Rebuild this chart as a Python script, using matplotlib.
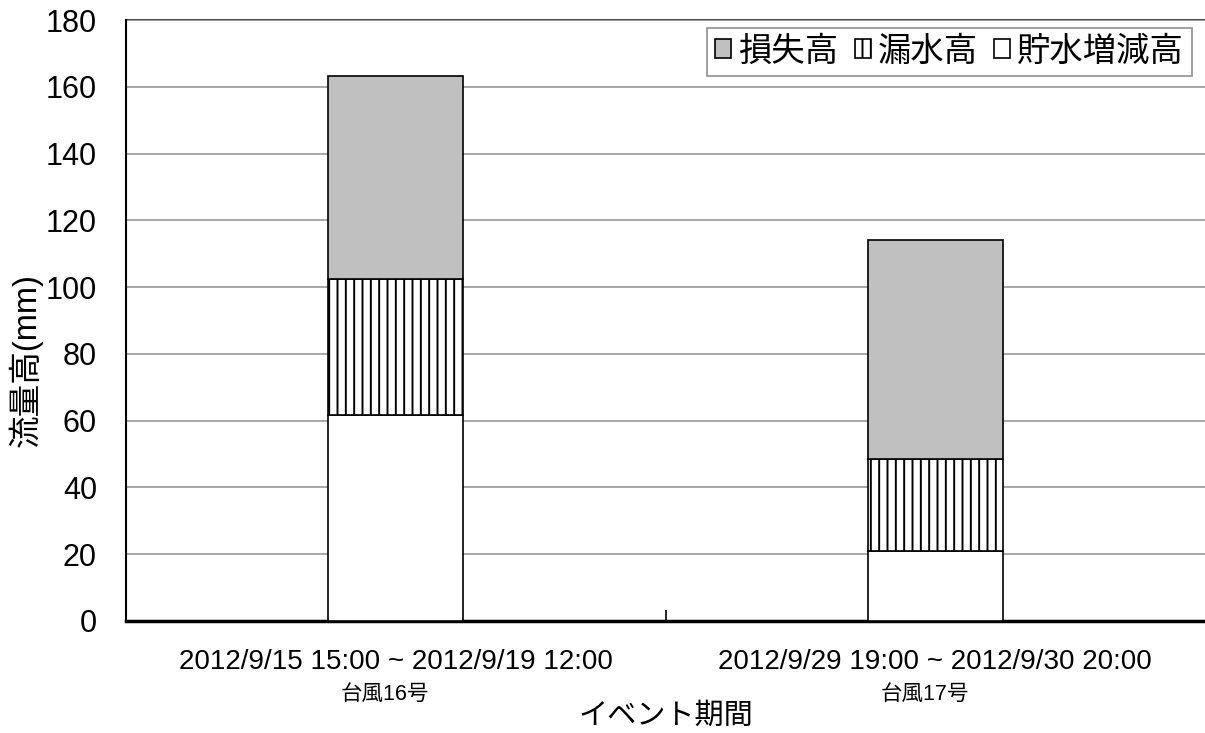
import matplotlib
matplotlib.use("Agg")
import matplotlib.pyplot as plt
import matplotlib.transforms as mtransforms
import numpy as np

plt.rcParams['font.family'] = ['Liberation Sans', 'Noto Sans CJK JP', 'DejaVu Sans']
plt.rcParams['hatch.linewidth'] = 1.4

# Event periods and typhoon names
periods = ["2012/9/15 15:00 ~ 2012/9/19 12:00", "2012/9/29 19:00 ~ 2012/9/30 20:00"]
typhoons = ["台風16号", "台風17号"]

# Stacked components (mm)
storage_change = [61.7, 21.0]   # 貯水増減高
leakage = [40.7, 27.5]          # 漏水高
loss = [60.8, 65.6]             # 損失高

y_ticks = [0, 20, 40, 60, 80, 100, 120, 140, 160, 180]

fig = plt.figure(figsize=(12.05, 7.33), dpi=100)
ax = fig.add_axes([0.1046, 0.1528, 0.8954, 0.8199])

x = np.arange(len(periods))
w = 0.25
s = np.array(storage_change)
l = np.array(leakage)
o = np.array(loss)

b1 = ax.bar(x, s, w, color='white', edgecolor='black', linewidth=1.2, zorder=3)
b2 = ax.bar(x, l, w, bottom=s, color='white', edgecolor='black', linewidth=1.2,
            hatch='||', zorder=3)
b3 = ax.bar(x, o, w, bottom=s + l, color='#c0c0c0', edgecolor='black', linewidth=1.2,
            zorder=3)

ax.set_xlim(-0.5, 1.5)
ax.set_ylim(0, 180)
ax.set_yticks(y_ticks)
ax.tick_params(axis='y', length=0, labelsize=22, pad=21)
ax.yaxis.grid(True, color='#a0a0a0', linewidth=1.3, zorder=0)
ax.axhline(180, color='#505050', linewidth=1.5, zorder=1, clip_on=False)

ax.set_xticks(x)
ax.set_xticklabels(periods, fontsize=20)
ax.tick_params(axis='x', length=0, pad=20)
ax.set_xticks([0.5], minor=True)
ax.tick_params(axis='x', which='minor', direction='in', length=8, width=1.2)

trans = mtransforms.blended_transform_factory(ax.transData, ax.transAxes)
for xi, name in zip(x, typhoons):
    ax.text(xi - 0.02, -0.122, name, transform=trans, ha='center', va='center', fontsize=15.5)

ax.set_ylabel('流量高(mm)', fontsize=23.5)
ax.yaxis.set_label_coords(-0.0927, 0.434)
ax.yaxis.label.set_va('center')
ax.set_xlabel('イベント期間', fontsize=21)
ax.xaxis.set_label_coords(0.5, -0.157)
ax.xaxis.label.set_va('center')

for side in ('top', 'right'):
    ax.spines[side].set_visible(False)
ax.spines['left'].set_linewidth(1.5)
ax.spines['bottom'].set_linewidth(2.5)

leg = ax.legend([b3, b2, b1], ['損失高', '漏水高', '貯水増減高'], ncol=3,
                loc='upper right', bbox_to_anchor=(0.988, 0.987), fontsize=24,
                handlelength=0.48, handleheight=0.48, handletextpad=0.2,
                columnspacing=0.5, borderpad=0.25, borderaxespad=0,
                fancybox=False, framealpha=1)
leg.get_frame().set_edgecolor('#909090')
leg.get_frame().set_linewidth(1.2)

fig.savefig('out.png', dpi=100)
